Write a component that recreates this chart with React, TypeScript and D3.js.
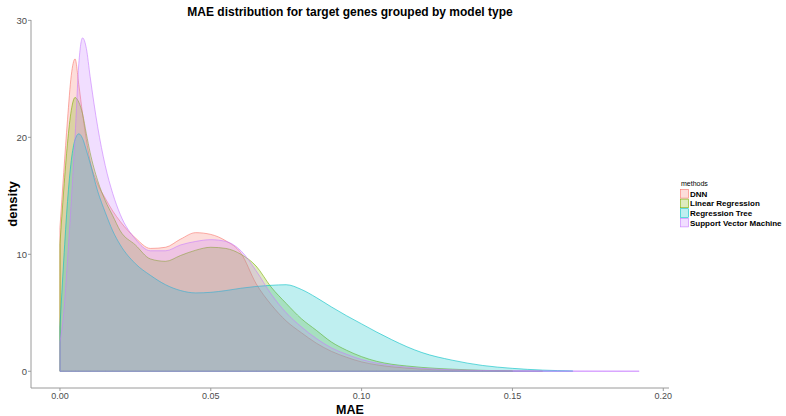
import React from 'react';
import * as d3 from 'd3';

const maeGrid = [0, 0.00125, 0.0025, 0.00375, 0.005, 0.00625, 0.0075, 0.00875, 0.01, 0.0125, 0.015, 0.0175, 0.02, 0.025, 0.03, 0.035, 0.04, 0.045, 0.05, 0.055, 0.06, 0.065, 0.07, 0.075, 0.08, 0.085, 0.09, 0.095, 0.1, 0.105, 0.11, 0.115, 0.12, 0.13, 0.14, 0.15, 0.16, 0.17, 0.18, 0.192];

const methods = ['DNN', 'Linear Regression', 'Regression Tree', 'Support Vector Machine'];
const methodColors = ['#F8766D', '#7CAE00', '#00BFC4', '#C77CFF'];

const dnnDensity = [12.3, 17, 21.5, 25.3, 26.7, 24.5, 22.0, 19.8, 18.0, 16.0, 14.8, 13.7, 12.8, 11.4, 10.5, 10.6, 11.3, 11.85, 11.7, 11.15, 10.1, 7.5, 5.7, 4.3, 3.3, 2.4, 1.7, 1.2, 0.8, 0.55, 0.38, 0.27, 0.18, 0.09, 0.04, 0.02, 0.01];
const lrDensity = [10.9, 15.5, 19.5, 22.3, 23.4, 23.0, 22.0, 20.3, 18.7, 16.3, 14.6, 13.3, 12.0, 10.8, 9.6, 9.4, 9.9, 10.35, 10.6, 10.5, 10.0, 9.0, 7.2, 5.8, 4.5, 3.5, 2.5, 1.8, 1.25, 0.85, 0.6, 0.45, 0.33, 0.18, 0.08, 0.03];
const rtDensity = [3.8, 9.5, 14.5, 18.0, 19.8, 20.3, 19.9, 18.9, 17.8, 15.4, 13.6, 12.0, 10.8, 9.2, 8.2, 7.4, 6.9, 6.7, 6.75, 6.9, 7.1, 7.25, 7.35, 7.4, 7.0, 6.3, 5.5, 4.75, 4.05, 3.35, 2.7, 2.1, 1.6, 0.95, 0.5, 0.25, 0.1, 0.03];
const svmDensity = [2.5, 5, 9.5, 14.5, 20, 26.3, 28.5, 27.6, 25.2, 20.9, 17.6, 15.2, 13.4, 11.3, 10.3, 10.3, 10.8, 11.1, 11.25, 11.1, 10.3, 8.6, 6.6, 5.0, 3.8, 2.8, 2.0, 1.45, 1.0, 0.7, 0.5, 0.35, 0.25, 0.13, 0.07, 0.04, 0.03, 0.02, 0.015, 0.01];

const seriesValues = [dnnDensity, lrDensity, rtDensity, svmDensity];

const xTicks = [0, 0.05, 0.1, 0.15, 0.2];
const yTicks = [0, 10, 20, 30];

const W = 786;
const H = 416;
const panel = { left: 31, right: 669, top: 20, bottom: 388 };
const FONT = '"Liberation Sans", Arial, sans-serif';
const FILL_ALPHA = 0.25;

export default function App() {
  const x = d3.scaleLinear().domain([-0.0096, 0.2019]).range([panel.left, panel.right]);
  const y = d3.scaleLinear().domain([-1.43, 30.03]).range([panel.bottom, panel.top]);

  const area = d3
    .area<[number, number]>()
    .x((d) => x(d[0]))
    .y0(() => y(0))
    .y1((d) => y(d[1]))
    .curve(d3.curveMonotoneX);

  const axisColor = '#9a9a9a';
  const tickText = '#4d4d4d';

  return (
    <svg width={W} height={H} style={{ position: 'absolute', left: 0, top: 0, background: '#fff' }} fontFamily={FONT}>
      <rect x={0} y={0} width={W} height={H} fill="#fff" />
      {seriesValues.map((vals, i) => {
        const pts: [number, number][] = vals.map((v, j) => [maeGrid[j], v]);
        return (
          <path
            key={methods[i]}
            d={area(pts) || ''}
            fill={methodColors[i]}
            fillOpacity={FILL_ALPHA}
            stroke={methodColors[i]}
            strokeWidth={0.6}
            strokeLinejoin="round"
          />
        );
      })}

      {/* axes */}
      <line x1={panel.left} x2={panel.left} y1={panel.top} y2={panel.bottom} stroke={axisColor} strokeWidth={1} />
      <line x1={panel.left} x2={panel.right} y1={panel.bottom} y2={panel.bottom} stroke={axisColor} strokeWidth={1} />
      {yTicks.map((t) => (
        <g key={'y' + t}>
          <line x1={panel.left - 3} x2={panel.left} y1={y(t)} y2={y(t)} stroke={axisColor} />
          <text x={panel.left - 4} y={y(t)} dy="0.35em" textAnchor="end" fontSize={9.5} fill={tickText}>
            {t}
          </text>
        </g>
      ))}
      {xTicks.map((t) => (
        <g key={'x' + t}>
          <line x1={x(t)} x2={x(t)} y1={panel.bottom} y2={panel.bottom + 3} stroke={axisColor} />
          <text x={x(t)} y={panel.bottom + 10.5} textAnchor="middle" fontSize={9} fill={tickText}>
            {d3.format('.2f')(t)}
          </text>
        </g>
      ))}

      {/* titles */}
      <text x={(panel.left + panel.right) / 2} y={16} textAnchor="middle" fontSize={12} fontWeight="bold" fill="#000">
        MAE distribution for target genes grouped by model type
      </text>
      <text x={(panel.left + panel.right) / 2} y={414} textAnchor="middle" fontSize={12.5} fontWeight="bold" fill="#000">
        MAE
      </text>
      <text
        transform={`translate(17,${(panel.top + panel.bottom) / 2}) rotate(-90)`}
        textAnchor="middle"
        fontSize={13}
        fontWeight="bold"
        fill="#000"
      >
        density
      </text>

      {/* legend */}
      <text x={681} y={186} fontSize={7} fill="#000">
        methods
      </text>
      {methods.map((m, i) => (
        <g key={'lg' + m}>
          <rect x={680.5} y={189.5 + i * 9.6} width={8} height={8.6} fill={methodColors[i]} fillOpacity={FILL_ALPHA} stroke={methodColors[i]} strokeWidth={0.6} />
          <text x={690} y={194 + i * 9.6} dy="0.35em" fontSize={8} fontWeight="bold" fill="#000">
            {m}
          </text>
        </g>
      ))}
    </svg>
  );
}
